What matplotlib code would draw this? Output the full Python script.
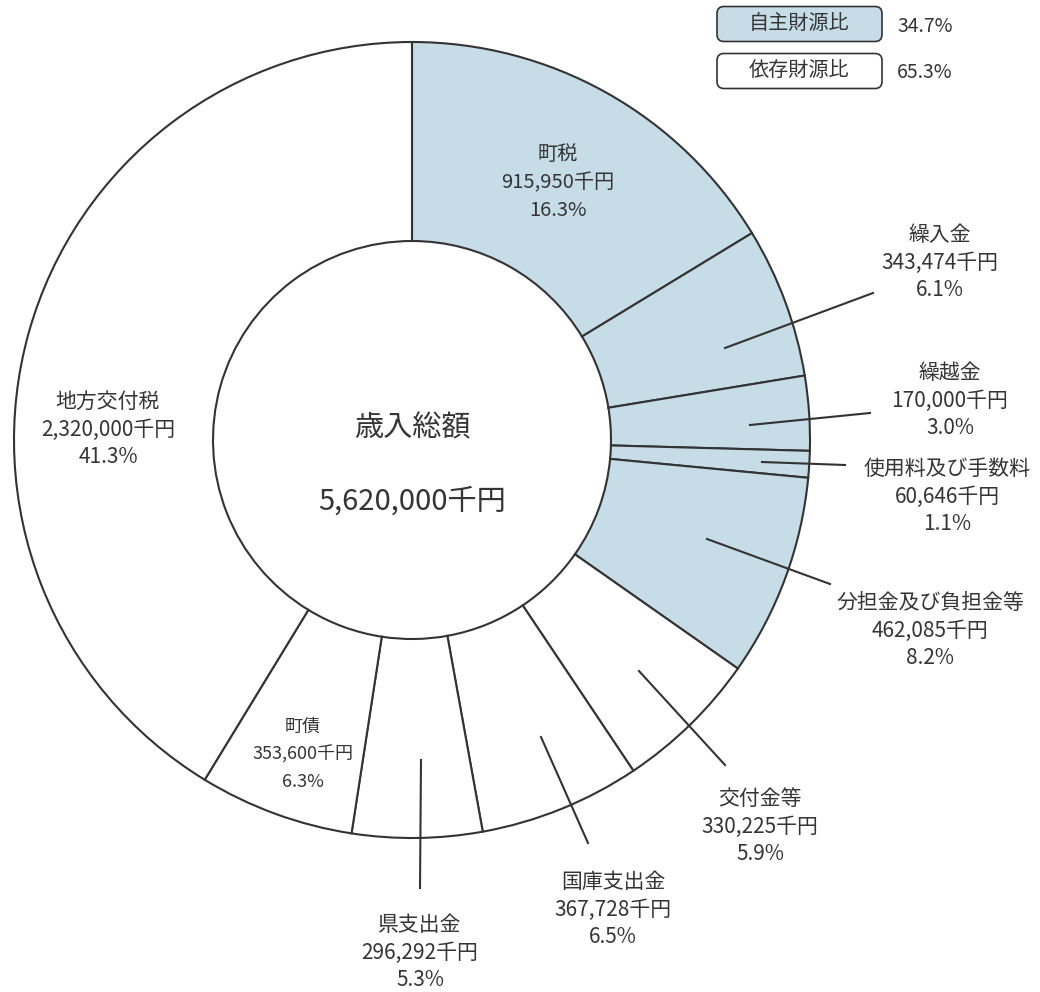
import numpy as np
import matplotlib
matplotlib.use("Agg")
import matplotlib.pyplot as plt
from matplotlib.patches import FancyBboxPatch

plt.rcParams["font.family"] = ["Noto Sans CJK JP", "DejaVu Sans"]

# data (千円)
names = ["町税", "繰入金", "繰越金", "使用料及び手数料", "分担金及び負担金等",
         "交付金等", "国庫支出金", "県支出金", "町債", "地方交付税"]
values = [915950, 343474, 170000, 60646, 462085,
          330225, 367728, 296292, 353600, 2320000]
own_source = [True, True, True, True, True,
              False, False, False, False, False]
total_label = "歳入総額"

total = sum(values)
pct = [v / total * 100 for v in values]
own_pct = sum(v for v, o in zip(values, own_source) if o) / total * 100
dep_pct = 100 - own_pct

blue = "#c6dce7"
ink = "#333333"
txt = "#353535"

# layout in pixel coords (y down)
cx, cy = 412, 440
r_out, r_in = 398, 199

# label anchor (x, y of first line), fontsize, leader (start, end) or None
layout = {
    "町税": ((558, 155), 14.5, None),
    "繰入金": ((940, 235), 15, ((725, 348), (873, 293))),
    "繰越金": ((950, 373), 15, ((750, 425), (870, 413))),
    "使用料及び手数料": ((947, 469), 15, ((762, 462), (845, 465))),
    "分担金及び負担金等": ((930, 603), 15, ((707, 539), (830, 584))),
    "交付金等": ((760, 799), 15, ((639, 671), (725, 765))),
    "国庫支出金": ((613, 882), 15, ((541, 737), (588, 843))),
    "県支出金": ((420, 925), 15, ((421, 760), (420, 888))),
    "町債": ((303, 727), 13, None),
    "地方交付税": ((108, 402), 15, None),
}
line_gap = 27.5

fig = plt.figure(figsize=(10.4, 9.92), dpi=100)
ax = fig.add_axes([0, 0, 1, 1])

colors = [blue if o else "white" for o in own_source]
ax.pie(values, colors=colors, center=(cx, cy), radius=r_out,
       startangle=-90, counterclock=True,
       wedgeprops=dict(width=r_out - r_in, edgecolor=ink, linewidth=1.5))

ax.set_xlim(0, 1040)
ax.set_ylim(992, 0)
ax.set_aspect("equal")
ax.axis("off")

for name, v, p in zip(names, values, pct):
    (x, y), fs, leader = layout[name]
    lines = [name, f"{v:,}千円", f"{p:.1f}%"]
    for i, s in enumerate(lines):
        ax.text(x, y + i * line_gap, s, ha="center", va="center",
                fontsize=fs, color=txt)
    if leader is not None:
        (x0, y0), (x1, y1) = leader
        ax.plot([x0, x1], [y0, y1], color=ink, linewidth=1.5)

# centre text
ax.text(cx, 428, total_label, ha="center", va="center", fontsize=21, color=txt)
ax.text(cx, 502, f"{total:,}千円", ha="center", va="center", fontsize=21, color=txt)

# legend boxes
legend_items = [("自主財源比", own_pct, blue, 24), ("依存財源比", dep_pct, "white", 71)]
for lab, p, fc, y in legend_items:
    box = FancyBboxPatch((719, y - 15.5), 161, 31,
                         boxstyle="round,pad=2,rounding_size=7",
                         facecolor=fc, edgecolor=ink, linewidth=1.2)
    ax.add_patch(box)
    ax.text(799, y, lab, ha="center", va="center", fontsize=14.5, color=txt)
    ax.text(897, y + 2, f"{p:.1f}%", ha="left", va="center", fontsize=14, color=txt)

fig.savefig("out.png", dpi=100, facecolor="white")
